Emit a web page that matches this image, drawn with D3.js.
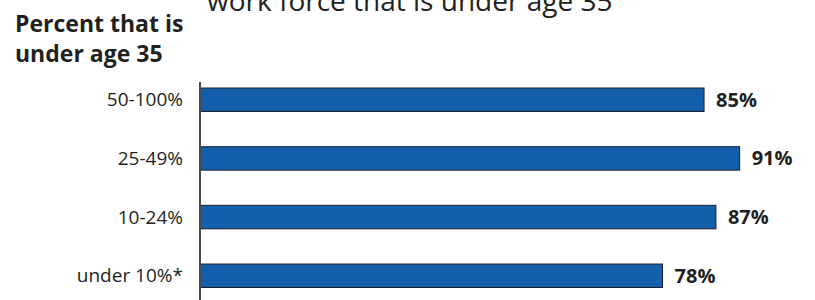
<!DOCTYPE html>
<meta charset="utf-8">
<style>

body {
  margin: 0;
  background: white;
}

svg text {
  font-family: 'Open Sans', sans-serif;
  fill: #231f20;
}

.title {
  font-size: 28px;
}

.subtitle {
  font-size: 23px;
  font-weight: bold;
}

.categories text {
  font-size: 19px;
  text-anchor: end;
}

.values text {
  font-size: 20px;
  font-weight: bold;
}

.bars rect {
  fill: #135fab;
  stroke: #1d1d2b;
  stroke-width: 1px;
}

.axis line {
  stroke: #4a4a4a;
  stroke-width: 2px;
}

</style>
<svg></svg>
<script src="https://cdn.jsdelivr.net/npm/d3@7"></script>
<script>

var width = 815;
var height = 300;

var categories = ['50-100%', '25-49%', '10-24%', 'under 10%*'];
var values = [85, 91, 87, 78];
var titleText = 'work force that is under age 35';
var subtitleLines = ['Percent that is', 'under age 35'];

var svg = d3.select('svg')
  .attr('width', width)
  .attr('height', height);

var x = d3.scaleLinear()
  .domain([0, 100])
  .range([200, 793]);

var y = d3.scaleBand()
  .domain(categories)
  .range([88, 287.5])
  .paddingInner(0.6)
  .paddingOuter(0);

var data = categories.map(function (c, i) { return { name: c, value: values[i] }; });

// title line that is cut off by the top of the frame
svg.append('text')
  .attr('class', 'title')
  .attr('x', 207)
  .attr('y', 11)
  .text(titleText);

svg.append('g')
  .selectAll('text')
  .data(subtitleLines)
  .enter().append('text')
  .attr('class', 'subtitle')
  .attr('x', 15)
  .attr('y', function (d, i) { return 32 + i * 30; })
  .text(function (d) { return d; });

svg.append('g')
  .attr('class', 'bars')
  .selectAll('rect')
  .data(data)
  .enter().append('rect')
  .attr('x', x(0))
  .attr('y', function (d) { return y(d.name); })
  .attr('width', function (d) { return x(d.value) - x(0); })
  .attr('height', y.bandwidth());

svg.append('g')
  .attr('class', 'axis')
  .append('line')
  .attr('x1', x(0))
  .attr('x2', x(0))
  .attr('y1', 82)
  .attr('y2', height);

svg.append('g')
  .attr('class', 'categories')
  .selectAll('text')
  .data(data)
  .enter().append('text')
  .attr('x', 183)
  .attr('y', function (d) { return y(d.name) + y.bandwidth() / 2; })
  .attr('dy', '0.35em')
  .text(function (d) { return d.name; });

svg.append('g')
  .attr('class', 'values')
  .selectAll('text')
  .data(data)
  .enter().append('text')
  .attr('x', function (d) { return x(d.value) + 12; })
  .attr('y', function (d) { return y(d.name) + y.bandwidth() / 2; })
  .attr('dy', '0.35em')
  .text(function (d) { return d.value + '%'; });

</script>
